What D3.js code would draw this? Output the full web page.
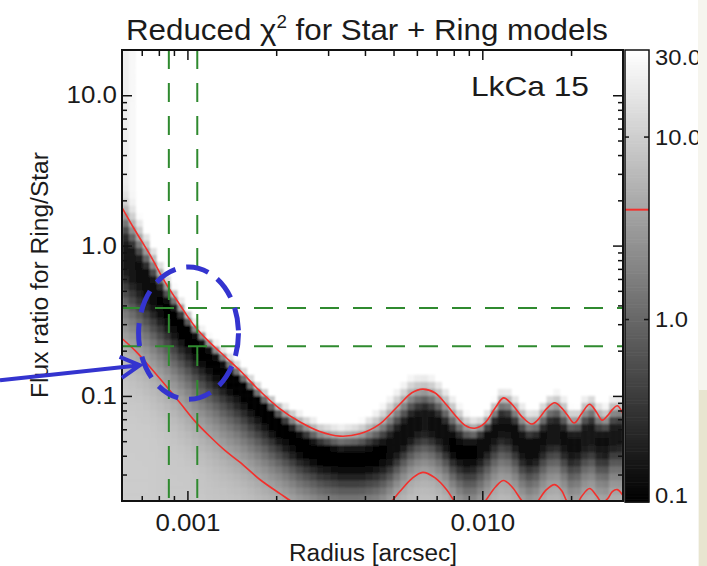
<!DOCTYPE html>
<html>
<head>
<meta charset="utf-8">
<script src="https://cdn.jsdelivr.net/npm/d3@7"></script>
<style>
  body { margin: 0; background: #fff; }
  text { font-family: "Liberation Sans", Arial, Helvetica, sans-serif; fill: #1b1b1b; }
</style>
</head>
<body>
<svg id="chart" width="707" height="566"></svg>
<script>
// columns, radius in arcsec
const radius = [0.0006, 0.000665, 0.00075, 0.00084, 0.000945, 0.00106, 0.00119, 0.00134, 0.00151, 0.00176,
  0.00206, 0.00241, 0.00281, 0.00329, 0.00384, 0.00449, 0.00485, 0.00525, 0.00577, 0.00628,
  0.0069, 0.00757, 0.00806, 0.00871, 0.00942, 0.0102, 0.0111, 0.0118, 0.0126, 0.0137,
  0.0147, 0.0154, 0.0165, 0.0176, 0.0186, 0.0194, 0.0205, 0.0217, 0.0231, 0.0244,
  0.0255, 0.0266, 0.0276, 0.0287, 0.03];
// flux ratio at the bottom of the chi2 trough
const valleyFlux = [0.909, 0.71, 0.521, 0.395, 0.304, 0.234, 0.185, 0.147, 0.117, 0.0857,
  0.0629, 0.0484, 0.0415, 0.0384, 0.0378, 0.0396, 0.0428, 0.0499, 0.0601, 0.068,
  0.0629, 0.0515, 0.0448, 0.0415, 0.0428, 0.0499, 0.0601, 0.0649, 0.0582, 0.0462,
  0.0428, 0.0462, 0.0539, 0.0582, 0.0531, 0.0477, 0.0462, 0.0499, 0.0566, 0.0499,
  0.0462, 0.0499, 0.0539, 0.0566, 0.0515];
const valleyChi = [0.18, 0.14, 0.12, 0.11, 0.1, 0.1, 0.1, 0.1, 0.1, 0.1,
  0.1, 0.1, 0.1, 0.1, 0.1, 0.11, 0.12, 0.13, 0.14, 0.15,
  0.14, 0.12, 0.11, 0.11, 0.11, 0.12, 0.14, 0.15, 0.14, 0.12,
  0.12, 0.13, 0.15, 0.16, 0.15, 0.14, 0.14, 0.15, 0.16, 0.15,
  0.14, 0.15, 0.16, 0.17, 0.16];
// red contour (chi2 = 4) above and below the trough; lower one dips under the frame between the arcs
const upperFlux = [1.79, 1.26, 0.854, 0.572, 0.401, 0.29, 0.227, 0.183, 0.147, 0.108,
  0.082, 0.067, 0.058, 0.054, 0.056, 0.065, 0.075, 0.088, 0.105, 0.111,
  0.105, 0.087, 0.075, 0.064, 0.061, 0.066, 0.084, 0.097, 0.088, 0.072,
  0.065, 0.069, 0.082, 0.09, 0.083, 0.075, 0.066, 0.076, 0.088, 0.078,
  0.069, 0.074, 0.081, 0.086, 0.076];
const lowerFlux = [0.241, 0.2, 0.154, 0.1185, 0.0898, 0.068, 0.0539, 0.0434, 0.0361, 0.0278,
  0.0224, 0.0183, 0.0158, 0.0146, 0.0148, 0.0164, 0.0192, 0.0231, 0.0282, 0.031,
  0.0286, 0.0238, 0.0198, 0.0164, 0.0164, 0.0198, 0.0249, 0.0274, 0.0249, 0.0198,
  0.0175, 0.0198, 0.0238, 0.0257, 0.0234, 0.0198, 0.018, 0.0214, 0.0242, 0.0217,
  0.0195, 0.0207, 0.0231, 0.0238, 0.0217];
// chi2 far above the trough (grey fringe at the left edge) and far below it (star alone)
const ceilChi = [18, 28, 90, 400, 1000, 1000, 1000, 1000, 1000, 1000,
  1000, 1000, 1000, 1000, 1000, 1000, 1000, 1000, 1000, 1000,
  1000, 1000, 1000, 1000, 1000, 1000, 1000, 1000, 1000, 1000,
  1000, 1000, 1000, 1000, 1000, 1000, 1000, 1000, 1000, 1000,
  1000, 1000, 1000, 1000, 1000];
const floorChi = [9.5, 9.5, 9.5, 9, 9, 9, 8.5, 8.5, 8.5, 8,
  8, 8, 8, 8, 8, 8, 8, 8, 8, 8,
  8, 8, 8, 8, 8, 8, 8, 8, 8, 8,
  7.5, 7.5, 7.5, 7.5, 7.5, 7.5, 7.5, 7.5, 7.5, 7.5,
  7.5, 7.5, 7.5, 7.5, 7.5];
const contourLevel = 4;

const xMajor = [0.001, 0.01];
const xMinor = [0.0007, 0.0008, 0.0009, 0.002, 0.003, 0.004, 0.005, 0.006, 0.007, 0.008, 0.009, 0.02];
const yMajor = [0.1, 1, 10];
const yMinor = [0.03, 0.04, 0.05, 0.06, 0.07, 0.08, 0.09, 0.2, 0.3, 0.4, 0.5, 0.6, 0.7, 0.8, 0.9,
  2, 3, 4, 5, 6, 7, 8, 9];
const barLabels = [30, 10, 1, 0.1];
const guideRadius = [0.000865, 0.00108];
const guideFlux = [0.214, 0.385];
// blue annotation: ellipse bounds and arrow tip, data units
const ringBox = { r: [0.000683, 0.00149], f: [0.095, 0.72] };
const arrowTip = { r: 0.00069, f: 0.16 };

const L = 122, R = 623, T = 50, B = 501;
const BAR = { x: 625, w: 24 };
const SVG = d3.select('#chart');

const x = d3.scaleLog().domain([0.0006, 0.03]).range([L, R]);
const y = d3.scaleLog().domain([0.02, 20]).range([B, T]);
const grey = d3.scaleLog().domain([0.1, 30]).range(['#000', '#fff']).clamp(true);
const barY = d3.scaleLog().domain([0.1, 30]).range([502, 50]);

const defs = SVG.append('defs');
defs.append('clipPath').attr('id', 'plotclip')
  .append('rect').attr('x', L).attr('y', T).attr('width', R - L).attr('height', B - T);
defs.append('filter').attr('id', 'soft').attr('x', 0).attr('y', 0).attr('width', 1).attr('height', 1)
  .append('feGaussianBlur').attr('stdDeviation', 1.1).attr('edgeMode', 'duplicate');

// stretch text a little wider, the original lettering is broad
function stretch(sel, k) {
  sel.each(function () {
    d3.select(this).attr('textLength', this.getComputedTextLength() * k)
      .attr('lengthAdjust', 'spacingAndGlyphs');
  });
}

// column parameters at a given log radius
const logR = radius.map(Math.log10);
function columnAt(lr) {
  let i = d3.bisectRight(logR, lr) - 1;
  i = Math.max(0, Math.min(logR.length - 2, i));
  const t = (lr - logR[i]) / (logR[i + 1] - logR[i]);
  const mix = (arr, lg) => lg
    ? Math.log10(arr[i]) * (1 - t) + Math.log10(arr[i + 1]) * t
    : arr[i] * (1 - t) + arr[i + 1] * t;
  return {
    c: mix(valleyFlux, true), u: mix(upperFlux, true), l: mix(lowerFlux, true),
    m: mix(valleyChi), top: mix(ceilChi), bot: mix(floorChi)
  };
}
// flat-bottomed trough: steep wall above, slower slope below
function chiAt(col, lf) {
  if (lf >= col.c) {
    const t = (lf - col.c) / (col.u - col.c);
    const k = -Math.log(1 - (contourLevel - col.m) / (col.top - col.m));
    return col.m + (col.top - col.m) * (1 - Math.exp(-k * Math.pow(t, 5)));
  }
  const t = (col.c - lf) / (col.c - col.l);
  const k = -Math.log(1 - (contourLevel - col.m) / (col.bot - col.m));
  return col.m + (col.bot - col.m) * (1 - Math.exp(-k * Math.pow(t, 3)));
}

const nCols = 72, nRows = 64;
const lx = x.domain().map(Math.log10), ly = y.domain().map(Math.log10);
const cells = [];
for (let i = 0; i < nCols; i++) {
  const a = lx[0] + (lx[1] - lx[0]) * i / nCols, b = lx[0] + (lx[1] - lx[0]) * (i + 1) / nCols;
  const col = columnAt((a + b) / 2);
  for (let j = 0; j < nRows; j++) {
    const c = ly[0] + (ly[1] - ly[0]) * j / nRows, d = ly[0] + (ly[1] - ly[0]) * (j + 1) / nRows;
    cells.push({ r0: 10 ** a, r1: 10 ** b, f0: 10 ** c, f1: 10 ** d, chi: chiAt(col, (c + d) / 2) });
  }
}

const plot = SVG.append('g').attr('clip-path', 'url(#plotclip)');
plot.append('g').attr('filter', 'url(#soft)')
  .selectAll('rect').data(cells).join('rect')
  .attr('x', d => x(d.r0)).attr('y', d => y(d.f1))
  .attr('width', d => x(d.r1) - x(d.r0) + 0.6)
  .attr('height', d => y(d.f0) - y(d.f1) + 0.6)
  .attr('fill', d => grey(d.chi));

// chi2 = 4 contours
const pts = radius.map((r, i) => ({ r, up: upperFlux[i], lo: lowerFlux[i] }));
const contour = key => d3.line().x(d => x(d.r)).y(d => y(d[key])).curve(d3.curveCatmullRom.alpha(0.5));
['up', 'lo'].forEach(k => {
  plot.append('path').datum(pts).attr('d', contour(k))
    .attr('fill', 'none').attr('stroke', '#f2302c').attr('stroke-width', 1.6);
});

// green guides
plot.selectAll('.vguide').data(guideRadius).join('line').attr('class', 'vguide')
  .attr('x1', d => x(d)).attr('x2', d => x(d)).attr('y1', T).attr('y2', B);
plot.selectAll('.hguide').data(guideFlux).join('line').attr('class', 'hguide')
  .attr('x1', L).attr('x2', R).attr('y1', d => y(d)).attr('y2', d => y(d));
plot.selectAll('.vguide, .hguide')
  .attr('stroke', '#2f8a2f').attr('stroke-width', 2).attr('stroke-dasharray', '19,14');

// axes, ticks pointing inward on all four sides
function axis(gen, scale, vals, size, tx, ty, fmt) {
  const g = SVG.append('g').attr('transform', `translate(${tx},${ty})`)
    .call(gen(scale).tickValues(vals).tickSize(-size).tickSizeOuter(0).tickPadding(6)
      .tickFormat(fmt || (() => '')));
  g.select('.domain').remove();
  g.selectAll('.tick line').attr('stroke', '#111').attr('stroke-width', 1.5);
  return g;
}
const yl = axis(d3.axisLeft, y, yMajor, 10, L, 0, d => d === 0.1 ? '0.1' : d.toFixed(1));
yl.selectAll('text').attr('x', -5).attr('font-size', 24).attr('fill', '#1b1b1b')
  .attr('font-family', '"Liberation Sans", Arial, sans-serif');
axis(d3.axisLeft, y, yMinor, 5, L, 0);
axis(d3.axisRight, y, yMajor, 10, R, 0);
axis(d3.axisRight, y, yMinor, 5, R, 0);
const xb = axis(d3.axisBottom, x, xMajor, 10, 0, B, d => d.toFixed(3));
xb.selectAll('text').attr('y', 13).attr('font-size', 24).attr('fill', '#1b1b1b')
  .attr('font-family', '"Liberation Sans", Arial, sans-serif');
axis(d3.axisBottom, x, xMinor, 5, 0, B);
axis(d3.axisTop, x, xMajor, 10, 0, T);
axis(d3.axisTop, x, xMinor, 6, 0, T);
stretch(yl.selectAll('text'), 1.08);
stretch(xb.selectAll('text'), 1.08);

SVG.append('rect').attr('x', L).attr('y', T).attr('width', R - L).attr('height', B - T)
  .attr('fill', 'none').attr('stroke', '#111').attr('stroke-width', 2);

// colour bar
const steps = d3.range(0, 160).map(i => 10 ** (-1 + Math.log10(300) * i / 160));
const stepTop = i => 10 ** (-1 + Math.log10(300) * (i + 1) / 160);
SVG.append('g').selectAll('rect').data(steps).join('rect')
  .attr('x', BAR.x).attr('width', BAR.w)
  .attr('y', (d, i) => barY(stepTop(i))).attr('height', (d, i) => barY(d) - barY(stepTop(i)) + 0.6)
  .attr('fill', d => grey(d * 1.02));
SVG.append('line').attr('x1', BAR.x).attr('x2', BAR.x + BAR.w)
  .attr('y1', barY(contourLevel)).attr('y2', barY(contourLevel))
  .attr('stroke', '#f2302c').attr('stroke-width', 2);
SVG.append('rect').attr('x', BAR.x).attr('y', 50).attr('width', BAR.w).attr('height', 452)
  .attr('fill', 'none').attr('stroke', '#111').attr('stroke-width', 1.5);
[1, 10].forEach(v => {
  SVG.append('line').attr('x1', BAR.x).attr('x2', BAR.x + 4).attr('y1', barY(v)).attr('y2', barY(v))
    .attr('stroke', '#111').attr('stroke-width', 1.5);
  SVG.append('line').attr('x1', BAR.x + BAR.w - 5).attr('x2', BAR.x + BAR.w).attr('y1', barY(v)).attr('y2', barY(v))
    .attr('stroke', '#111').attr('stroke-width', 1.5);
});
const barText = SVG.selectAll('.barlab').data(barLabels).join('text').attr('class', 'barlab')
  .attr('x', 655).attr('y', d => Math.max(57, Math.min(495, barY(d))))
  .attr('dy', '0.35em').attr('font-size', 22)
  .text(d => d === 0.1 ? '0.1' : d.toFixed(1));
stretch(barText, 1.08);

// texts
const title = SVG.append('text').attr('x', 126).attr('y', 40).attr('font-size', 30)
  .attr('textLength', 482).attr('lengthAdjust', 'spacingAndGlyphs');
title.append('tspan').text('Reduced χ');
title.append('tspan').attr('font-size', 18).attr('dy', -12).text('2');
title.append('tspan').attr('dy', 12).text(' for Star + Ring models');

SVG.append('text').attr('x', 471).attr('y', 96).attr('font-size', 28)
  .attr('textLength', 118).attr('lengthAdjust', 'spacingAndGlyphs').text('LkCa 15');
SVG.append('text').attr('x', 289).attr('y', 561).attr('font-size', 23)
  .attr('textLength', 168).attr('lengthAdjust', 'spacingAndGlyphs').text('Radius [arcsec]');
SVG.append('text').attr('transform', 'translate(48,398) rotate(-90)').attr('font-size', 23)
  .attr('textLength', 246).attr('lengthAdjust', 'spacingAndGlyphs').text('Flux ratio for Ring/Star');

// blue annotation
const ex0 = x(ringBox.r[0]), ex1 = x(ringBox.r[1]), ey0 = y(ringBox.f[1]), ey1 = y(ringBox.f[0]);
SVG.append('ellipse').attr('cx', (ex0 + ex1) / 2).attr('cy', (ey0 + ey1) / 2)
  .attr('rx', (ex1 - ex0) / 2).attr('ry', (ey1 - ey0) / 2)
  .attr('fill', 'none').attr('stroke', '#3434cf').attr('stroke-width', 5)
  .attr('stroke-dasharray', '23,11');
const tip = [x(arrowTip.r), y(arrowTip.f)], tail = [0, tip[1] + 15];
const ang = Math.atan2(tip[1] - tail[1], tip[0] - tail[0]);
const barb = s => [tip[0] - 22 * Math.cos(ang + s * 0.5), tip[1] - 22 * Math.sin(ang + s * 0.5)];
SVG.append('path')
  .attr('d', d3.line()([tail, tip]) + 'M' + barb(1) + 'L' + tip + 'L' + barb(-1))
  .attr('fill', 'none').attr('stroke', '#3434cf').attr('stroke-width', 4).attr('stroke-linejoin', 'miter');

// page edge outside the original figure
SVG.append('rect').attr('x', 698).attr('y', 0).attr('width', 9).attr('height', 566).attr('fill', '#f6f5ee');
SVG.append('rect').attr('x', 699).attr('y', 390).attr('width', 8).attr('height', 176).attr('fill', '#e8e5d0');
</script>
</body>
</html>
